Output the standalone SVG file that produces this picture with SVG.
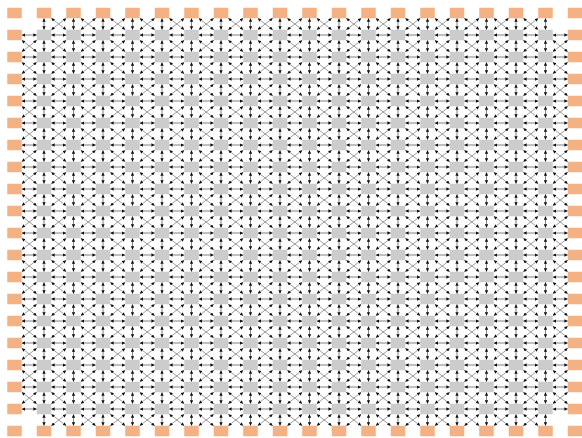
<svg xmlns="http://www.w3.org/2000/svg" xmlns:xlink="http://www.w3.org/1999/xlink" width="582" height="438" viewBox="0 0 582 438">
<style>
rect{width:14.5px;height:10.5px}
.o{fill:#F4B183}
.g{fill:#CCCCCC}
.c{stroke:#4a4a4a;stroke-width:0.7;fill:none;marker-start:url(#a);marker-end:url(#a)}
.d{stroke:#5a5a5a;stroke-width:0.6}
</style>
<defs>
<marker id="a" viewBox="0 0 6 6" refX="6" refY="3" markerWidth="3.4" markerHeight="3.4" markerUnits="userSpaceOnUse" orient="auto-start-reverse"><path d="M0,0L6,3L0,6z" fill="#111"/></marker>
<line id="h" class="c" x1="0" y1="0" x2="15" y2="0"/>
<line id="v" class="c" x1="0" y1="0" x2="0" y2="11.5"/>
<g id="dx"><line class="c d" x1="0" y1="0" x2="15" y2="11.5"/><line class="c d" x1="15" y1="0" x2="0" y2="11.5"/></g>
<g id="H"><use href="#h" x="21.75"/><use href="#h" x="51.25"/><use href="#h" x="80.75"/><use href="#h" x="110.25"/><use href="#h" x="139.75"/><use href="#h" x="169.25"/><use href="#h" x="198.75"/><use href="#h" x="228.25"/><use href="#h" x="257.75"/><use href="#h" x="287.25"/><use href="#h" x="316.75"/><use href="#h" x="346.25"/><use href="#h" x="375.75"/><use href="#h" x="405.25"/><use href="#h" x="434.75"/><use href="#h" x="464.25"/><use href="#h" x="493.75"/><use href="#h" x="523.25"/><use href="#h" x="552.75"/></g>
<g id="V"><use href="#v" x="44"/><use href="#v" x="73.5"/><use href="#v" x="103"/><use href="#v" x="132.5"/><use href="#v" x="162"/><use href="#v" x="191.5"/><use href="#v" x="221"/><use href="#v" x="250.5"/><use href="#v" x="280"/><use href="#v" x="309.5"/><use href="#v" x="339"/><use href="#v" x="368.5"/><use href="#v" x="398"/><use href="#v" x="427.5"/><use href="#v" x="457"/><use href="#v" x="486.5"/><use href="#v" x="516"/><use href="#v" x="545.5"/></g>
<g id="DXb"><use href="#dx" x="51.25"/><use href="#dx" x="80.75"/><use href="#dx" x="110.25"/><use href="#dx" x="139.75"/><use href="#dx" x="169.25"/><use href="#dx" x="198.75"/><use href="#dx" x="228.25"/><use href="#dx" x="257.75"/><use href="#dx" x="287.25"/><use href="#dx" x="316.75"/><use href="#dx" x="346.25"/><use href="#dx" x="375.75"/><use href="#dx" x="405.25"/><use href="#dx" x="434.75"/><use href="#dx" x="464.25"/><use href="#dx" x="493.75"/><use href="#dx" x="523.25"/></g>
<g id="DX"><use href="#dx" x="21.75"/><use href="#DXb"/><use href="#dx" x="552.75"/></g>
</defs>
<rect x="0" y="0" width="582" height="438" fill="#ffffff" style="width:582px;height:438px"/>
<g id="connectors">
<use href="#H" y="35"/><use href="#H" y="57"/><use href="#H" y="79"/><use href="#H" y="101"/><use href="#H" y="123"/><use href="#H" y="145"/><use href="#H" y="167"/><use href="#H" y="189"/><use href="#H" y="211"/><use href="#H" y="233"/><use href="#H" y="255"/><use href="#H" y="277"/><use href="#H" y="299"/><use href="#H" y="321"/><use href="#H" y="343"/><use href="#H" y="365"/><use href="#H" y="387"/><use href="#H" y="409"/>
<use href="#V" y="18.25"/><use href="#V" y="40.25"/><use href="#V" y="62.25"/><use href="#V" y="84.25"/><use href="#V" y="106.25"/><use href="#V" y="128.25"/><use href="#V" y="150.25"/><use href="#V" y="172.25"/><use href="#V" y="194.25"/><use href="#V" y="216.25"/><use href="#V" y="238.25"/><use href="#V" y="260.25"/><use href="#V" y="282.25"/><use href="#V" y="304.25"/><use href="#V" y="326.25"/><use href="#V" y="348.25"/><use href="#V" y="370.25"/><use href="#V" y="392.25"/><use href="#V" y="414.25"/>
<use href="#DXb" y="18.25"/><use href="#DX" y="40.25"/><use href="#DX" y="62.25"/><use href="#DX" y="84.25"/><use href="#DX" y="106.25"/><use href="#DX" y="128.25"/><use href="#DX" y="150.25"/><use href="#DX" y="172.25"/><use href="#DX" y="194.25"/><use href="#DX" y="216.25"/><use href="#DX" y="238.25"/><use href="#DX" y="260.25"/><use href="#DX" y="282.25"/><use href="#DX" y="304.25"/><use href="#DX" y="326.25"/><use href="#DX" y="348.25"/><use href="#DX" y="370.25"/><use href="#DX" y="392.25"/><use href="#DXb" y="414.25"/>
</g>
<g id="nodes">
<g transform="translate(0,7.75)"><g id="n0_0"><rect class="o" x="7.25"/></g><g id="n1_0"><rect class="o" x="36.75"/></g><g id="n2_0"><rect class="o" x="66.25"/></g><g id="n3_0"><rect class="o" x="95.75"/></g><g id="n4_0"><rect class="o" x="125.25"/></g><g id="n5_0"><rect class="o" x="154.75"/></g><g id="n6_0"><rect class="o" x="184.25"/></g><g id="n7_0"><rect class="o" x="213.75"/></g><g id="n8_0"><rect class="o" x="243.25"/></g><g id="n9_0"><rect class="o" x="272.75"/></g><g id="n10_0"><rect class="o" x="302.25"/></g><g id="n11_0"><rect class="o" x="331.75"/></g><g id="n12_0"><rect class="o" x="361.25"/></g><g id="n13_0"><rect class="o" x="390.75"/></g><g id="n14_0"><rect class="o" x="420.25"/></g><g id="n15_0"><rect class="o" x="449.75"/></g><g id="n16_0"><rect class="o" x="479.25"/></g><g id="n17_0"><rect class="o" x="508.75"/></g><g id="n18_0"><rect class="o" x="538.25"/></g><g id="n19_0"><rect class="o" x="567.75"/></g></g>
<g transform="translate(0,29.75)"><g id="n0_1"><rect class="o" x="7.25"/></g><g id="n1_1"><rect class="g" x="36.75"/></g><g id="n2_1"><rect class="g" x="66.25"/></g><g id="n3_1"><rect class="g" x="95.75"/></g><g id="n4_1"><rect class="g" x="125.25"/></g><g id="n5_1"><rect class="g" x="154.75"/></g><g id="n6_1"><rect class="g" x="184.25"/></g><g id="n7_1"><rect class="g" x="213.75"/></g><g id="n8_1"><rect class="g" x="243.25"/></g><g id="n9_1"><rect class="g" x="272.75"/></g><g id="n10_1"><rect class="g" x="302.25"/></g><g id="n11_1"><rect class="g" x="331.75"/></g><g id="n12_1"><rect class="g" x="361.25"/></g><g id="n13_1"><rect class="g" x="390.75"/></g><g id="n14_1"><rect class="g" x="420.25"/></g><g id="n15_1"><rect class="g" x="449.75"/></g><g id="n16_1"><rect class="g" x="479.25"/></g><g id="n17_1"><rect class="g" x="508.75"/></g><g id="n18_1"><rect class="g" x="538.25"/></g><g id="n19_1"><rect class="o" x="567.75"/></g></g>
<g transform="translate(0,51.75)"><g id="n0_2"><rect class="o" x="7.25"/></g><g id="n1_2"><rect class="g" x="36.75"/></g><g id="n2_2"><rect class="g" x="66.25"/></g><g id="n3_2"><rect class="g" x="95.75"/></g><g id="n4_2"><rect class="g" x="125.25"/></g><g id="n5_2"><rect class="g" x="154.75"/></g><g id="n6_2"><rect class="g" x="184.25"/></g><g id="n7_2"><rect class="g" x="213.75"/></g><g id="n8_2"><rect class="g" x="243.25"/></g><g id="n9_2"><rect class="g" x="272.75"/></g><g id="n10_2"><rect class="g" x="302.25"/></g><g id="n11_2"><rect class="g" x="331.75"/></g><g id="n12_2"><rect class="g" x="361.25"/></g><g id="n13_2"><rect class="g" x="390.75"/></g><g id="n14_2"><rect class="g" x="420.25"/></g><g id="n15_2"><rect class="g" x="449.75"/></g><g id="n16_2"><rect class="g" x="479.25"/></g><g id="n17_2"><rect class="g" x="508.75"/></g><g id="n18_2"><rect class="g" x="538.25"/></g><g id="n19_2"><rect class="o" x="567.75"/></g></g>
<g transform="translate(0,73.75)"><g id="n0_3"><rect class="o" x="7.25"/></g><g id="n1_3"><rect class="g" x="36.75"/></g><g id="n2_3"><rect class="g" x="66.25"/></g><g id="n3_3"><rect class="g" x="95.75"/></g><g id="n4_3"><rect class="g" x="125.25"/></g><g id="n5_3"><rect class="g" x="154.75"/></g><g id="n6_3"><rect class="g" x="184.25"/></g><g id="n7_3"><rect class="g" x="213.75"/></g><g id="n8_3"><rect class="g" x="243.25"/></g><g id="n9_3"><rect class="g" x="272.75"/></g><g id="n10_3"><rect class="g" x="302.25"/></g><g id="n11_3"><rect class="g" x="331.75"/></g><g id="n12_3"><rect class="g" x="361.25"/></g><g id="n13_3"><rect class="g" x="390.75"/></g><g id="n14_3"><rect class="g" x="420.25"/></g><g id="n15_3"><rect class="g" x="449.75"/></g><g id="n16_3"><rect class="g" x="479.25"/></g><g id="n17_3"><rect class="g" x="508.75"/></g><g id="n18_3"><rect class="g" x="538.25"/></g><g id="n19_3"><rect class="o" x="567.75"/></g></g>
<g transform="translate(0,95.75)"><g id="n0_4"><rect class="o" x="7.25"/></g><g id="n1_4"><rect class="g" x="36.75"/></g><g id="n2_4"><rect class="g" x="66.25"/></g><g id="n3_4"><rect class="g" x="95.75"/></g><g id="n4_4"><rect class="g" x="125.25"/></g><g id="n5_4"><rect class="g" x="154.75"/></g><g id="n6_4"><rect class="g" x="184.25"/></g><g id="n7_4"><rect class="g" x="213.75"/></g><g id="n8_4"><rect class="g" x="243.25"/></g><g id="n9_4"><rect class="g" x="272.75"/></g><g id="n10_4"><rect class="g" x="302.25"/></g><g id="n11_4"><rect class="g" x="331.75"/></g><g id="n12_4"><rect class="g" x="361.25"/></g><g id="n13_4"><rect class="g" x="390.75"/></g><g id="n14_4"><rect class="g" x="420.25"/></g><g id="n15_4"><rect class="g" x="449.75"/></g><g id="n16_4"><rect class="g" x="479.25"/></g><g id="n17_4"><rect class="g" x="508.75"/></g><g id="n18_4"><rect class="g" x="538.25"/></g><g id="n19_4"><rect class="o" x="567.75"/></g></g>
<g transform="translate(0,117.75)"><g id="n0_5"><rect class="o" x="7.25"/></g><g id="n1_5"><rect class="g" x="36.75"/></g><g id="n2_5"><rect class="g" x="66.25"/></g><g id="n3_5"><rect class="g" x="95.75"/></g><g id="n4_5"><rect class="g" x="125.25"/></g><g id="n5_5"><rect class="g" x="154.75"/></g><g id="n6_5"><rect class="g" x="184.25"/></g><g id="n7_5"><rect class="g" x="213.75"/></g><g id="n8_5"><rect class="g" x="243.25"/></g><g id="n9_5"><rect class="g" x="272.75"/></g><g id="n10_5"><rect class="g" x="302.25"/></g><g id="n11_5"><rect class="g" x="331.75"/></g><g id="n12_5"><rect class="g" x="361.25"/></g><g id="n13_5"><rect class="g" x="390.75"/></g><g id="n14_5"><rect class="g" x="420.25"/></g><g id="n15_5"><rect class="g" x="449.75"/></g><g id="n16_5"><rect class="g" x="479.25"/></g><g id="n17_5"><rect class="g" x="508.75"/></g><g id="n18_5"><rect class="g" x="538.25"/></g><g id="n19_5"><rect class="o" x="567.75"/></g></g>
<g transform="translate(0,139.75)"><g id="n0_6"><rect class="o" x="7.25"/></g><g id="n1_6"><rect class="g" x="36.75"/></g><g id="n2_6"><rect class="g" x="66.25"/></g><g id="n3_6"><rect class="g" x="95.75"/></g><g id="n4_6"><rect class="g" x="125.25"/></g><g id="n5_6"><rect class="g" x="154.75"/></g><g id="n6_6"><rect class="g" x="184.25"/></g><g id="n7_6"><rect class="g" x="213.75"/></g><g id="n8_6"><rect class="g" x="243.25"/></g><g id="n9_6"><rect class="g" x="272.75"/></g><g id="n10_6"><rect class="g" x="302.25"/></g><g id="n11_6"><rect class="g" x="331.75"/></g><g id="n12_6"><rect class="g" x="361.25"/></g><g id="n13_6"><rect class="g" x="390.75"/></g><g id="n14_6"><rect class="g" x="420.25"/></g><g id="n15_6"><rect class="g" x="449.75"/></g><g id="n16_6"><rect class="g" x="479.25"/></g><g id="n17_6"><rect class="g" x="508.75"/></g><g id="n18_6"><rect class="g" x="538.25"/></g><g id="n19_6"><rect class="o" x="567.75"/></g></g>
<g transform="translate(0,161.75)"><g id="n0_7"><rect class="o" x="7.25"/></g><g id="n1_7"><rect class="g" x="36.75"/></g><g id="n2_7"><rect class="g" x="66.25"/></g><g id="n3_7"><rect class="g" x="95.75"/></g><g id="n4_7"><rect class="g" x="125.25"/></g><g id="n5_7"><rect class="g" x="154.75"/></g><g id="n6_7"><rect class="g" x="184.25"/></g><g id="n7_7"><rect class="g" x="213.75"/></g><g id="n8_7"><rect class="g" x="243.25"/></g><g id="n9_7"><rect class="g" x="272.75"/></g><g id="n10_7"><rect class="g" x="302.25"/></g><g id="n11_7"><rect class="g" x="331.75"/></g><g id="n12_7"><rect class="g" x="361.25"/></g><g id="n13_7"><rect class="g" x="390.75"/></g><g id="n14_7"><rect class="g" x="420.25"/></g><g id="n15_7"><rect class="g" x="449.75"/></g><g id="n16_7"><rect class="g" x="479.25"/></g><g id="n17_7"><rect class="g" x="508.75"/></g><g id="n18_7"><rect class="g" x="538.25"/></g><g id="n19_7"><rect class="o" x="567.75"/></g></g>
<g transform="translate(0,183.75)"><g id="n0_8"><rect class="o" x="7.25"/></g><g id="n1_8"><rect class="g" x="36.75"/></g><g id="n2_8"><rect class="g" x="66.25"/></g><g id="n3_8"><rect class="g" x="95.75"/></g><g id="n4_8"><rect class="g" x="125.25"/></g><g id="n5_8"><rect class="g" x="154.75"/></g><g id="n6_8"><rect class="g" x="184.25"/></g><g id="n7_8"><rect class="g" x="213.75"/></g><g id="n8_8"><rect class="g" x="243.25"/></g><g id="n9_8"><rect class="g" x="272.75"/></g><g id="n10_8"><rect class="g" x="302.25"/></g><g id="n11_8"><rect class="g" x="331.75"/></g><g id="n12_8"><rect class="g" x="361.25"/></g><g id="n13_8"><rect class="g" x="390.75"/></g><g id="n14_8"><rect class="g" x="420.25"/></g><g id="n15_8"><rect class="g" x="449.75"/></g><g id="n16_8"><rect class="g" x="479.25"/></g><g id="n17_8"><rect class="g" x="508.75"/></g><g id="n18_8"><rect class="g" x="538.25"/></g><g id="n19_8"><rect class="o" x="567.75"/></g></g>
<g transform="translate(0,205.75)"><g id="n0_9"><rect class="o" x="7.25"/></g><g id="n1_9"><rect class="g" x="36.75"/></g><g id="n2_9"><rect class="g" x="66.25"/></g><g id="n3_9"><rect class="g" x="95.75"/></g><g id="n4_9"><rect class="g" x="125.25"/></g><g id="n5_9"><rect class="g" x="154.75"/></g><g id="n6_9"><rect class="g" x="184.25"/></g><g id="n7_9"><rect class="g" x="213.75"/></g><g id="n8_9"><rect class="g" x="243.25"/></g><g id="n9_9"><rect class="g" x="272.75"/></g><g id="n10_9"><rect class="g" x="302.25"/></g><g id="n11_9"><rect class="g" x="331.75"/></g><g id="n12_9"><rect class="g" x="361.25"/></g><g id="n13_9"><rect class="g" x="390.75"/></g><g id="n14_9"><rect class="g" x="420.25"/></g><g id="n15_9"><rect class="g" x="449.75"/></g><g id="n16_9"><rect class="g" x="479.25"/></g><g id="n17_9"><rect class="g" x="508.75"/></g><g id="n18_9"><rect class="g" x="538.25"/></g><g id="n19_9"><rect class="o" x="567.75"/></g></g>
<g transform="translate(0,227.75)"><g id="n0_10"><rect class="o" x="7.25"/></g><g id="n1_10"><rect class="g" x="36.75"/></g><g id="n2_10"><rect class="g" x="66.25"/></g><g id="n3_10"><rect class="g" x="95.75"/></g><g id="n4_10"><rect class="g" x="125.25"/></g><g id="n5_10"><rect class="g" x="154.75"/></g><g id="n6_10"><rect class="g" x="184.25"/></g><g id="n7_10"><rect class="g" x="213.75"/></g><g id="n8_10"><rect class="g" x="243.25"/></g><g id="n9_10"><rect class="g" x="272.75"/></g><g id="n10_10"><rect class="g" x="302.25"/></g><g id="n11_10"><rect class="g" x="331.75"/></g><g id="n12_10"><rect class="g" x="361.25"/></g><g id="n13_10"><rect class="g" x="390.75"/></g><g id="n14_10"><rect class="g" x="420.25"/></g><g id="n15_10"><rect class="g" x="449.75"/></g><g id="n16_10"><rect class="g" x="479.25"/></g><g id="n17_10"><rect class="g" x="508.75"/></g><g id="n18_10"><rect class="g" x="538.25"/></g><g id="n19_10"><rect class="o" x="567.75"/></g></g>
<g transform="translate(0,249.75)"><g id="n0_11"><rect class="o" x="7.25"/></g><g id="n1_11"><rect class="g" x="36.75"/></g><g id="n2_11"><rect class="g" x="66.25"/></g><g id="n3_11"><rect class="g" x="95.75"/></g><g id="n4_11"><rect class="g" x="125.25"/></g><g id="n5_11"><rect class="g" x="154.75"/></g><g id="n6_11"><rect class="g" x="184.25"/></g><g id="n7_11"><rect class="g" x="213.75"/></g><g id="n8_11"><rect class="g" x="243.25"/></g><g id="n9_11"><rect class="g" x="272.75"/></g><g id="n10_11"><rect class="g" x="302.25"/></g><g id="n11_11"><rect class="g" x="331.75"/></g><g id="n12_11"><rect class="g" x="361.25"/></g><g id="n13_11"><rect class="g" x="390.75"/></g><g id="n14_11"><rect class="g" x="420.25"/></g><g id="n15_11"><rect class="g" x="449.75"/></g><g id="n16_11"><rect class="g" x="479.25"/></g><g id="n17_11"><rect class="g" x="508.75"/></g><g id="n18_11"><rect class="g" x="538.25"/></g><g id="n19_11"><rect class="o" x="567.75"/></g></g>
<g transform="translate(0,271.75)"><g id="n0_12"><rect class="o" x="7.25"/></g><g id="n1_12"><rect class="g" x="36.75"/></g><g id="n2_12"><rect class="g" x="66.25"/></g><g id="n3_12"><rect class="g" x="95.75"/></g><g id="n4_12"><rect class="g" x="125.25"/></g><g id="n5_12"><rect class="g" x="154.75"/></g><g id="n6_12"><rect class="g" x="184.25"/></g><g id="n7_12"><rect class="g" x="213.75"/></g><g id="n8_12"><rect class="g" x="243.25"/></g><g id="n9_12"><rect class="g" x="272.75"/></g><g id="n10_12"><rect class="g" x="302.25"/></g><g id="n11_12"><rect class="g" x="331.75"/></g><g id="n12_12"><rect class="g" x="361.25"/></g><g id="n13_12"><rect class="g" x="390.75"/></g><g id="n14_12"><rect class="g" x="420.25"/></g><g id="n15_12"><rect class="g" x="449.75"/></g><g id="n16_12"><rect class="g" x="479.25"/></g><g id="n17_12"><rect class="g" x="508.75"/></g><g id="n18_12"><rect class="g" x="538.25"/></g><g id="n19_12"><rect class="o" x="567.75"/></g></g>
<g transform="translate(0,293.75)"><g id="n0_13"><rect class="o" x="7.25"/></g><g id="n1_13"><rect class="g" x="36.75"/></g><g id="n2_13"><rect class="g" x="66.25"/></g><g id="n3_13"><rect class="g" x="95.75"/></g><g id="n4_13"><rect class="g" x="125.25"/></g><g id="n5_13"><rect class="g" x="154.75"/></g><g id="n6_13"><rect class="g" x="184.25"/></g><g id="n7_13"><rect class="g" x="213.75"/></g><g id="n8_13"><rect class="g" x="243.25"/></g><g id="n9_13"><rect class="g" x="272.75"/></g><g id="n10_13"><rect class="g" x="302.25"/></g><g id="n11_13"><rect class="g" x="331.75"/></g><g id="n12_13"><rect class="g" x="361.25"/></g><g id="n13_13"><rect class="g" x="390.75"/></g><g id="n14_13"><rect class="g" x="420.25"/></g><g id="n15_13"><rect class="g" x="449.75"/></g><g id="n16_13"><rect class="g" x="479.25"/></g><g id="n17_13"><rect class="g" x="508.75"/></g><g id="n18_13"><rect class="g" x="538.25"/></g><g id="n19_13"><rect class="o" x="567.75"/></g></g>
<g transform="translate(0,315.75)"><g id="n0_14"><rect class="o" x="7.25"/></g><g id="n1_14"><rect class="g" x="36.75"/></g><g id="n2_14"><rect class="g" x="66.25"/></g><g id="n3_14"><rect class="g" x="95.75"/></g><g id="n4_14"><rect class="g" x="125.25"/></g><g id="n5_14"><rect class="g" x="154.75"/></g><g id="n6_14"><rect class="g" x="184.25"/></g><g id="n7_14"><rect class="g" x="213.75"/></g><g id="n8_14"><rect class="g" x="243.25"/></g><g id="n9_14"><rect class="g" x="272.75"/></g><g id="n10_14"><rect class="g" x="302.25"/></g><g id="n11_14"><rect class="g" x="331.75"/></g><g id="n12_14"><rect class="g" x="361.25"/></g><g id="n13_14"><rect class="g" x="390.75"/></g><g id="n14_14"><rect class="g" x="420.25"/></g><g id="n15_14"><rect class="g" x="449.75"/></g><g id="n16_14"><rect class="g" x="479.25"/></g><g id="n17_14"><rect class="g" x="508.75"/></g><g id="n18_14"><rect class="g" x="538.25"/></g><g id="n19_14"><rect class="o" x="567.75"/></g></g>
<g transform="translate(0,337.75)"><g id="n0_15"><rect class="o" x="7.25"/></g><g id="n1_15"><rect class="g" x="36.75"/></g><g id="n2_15"><rect class="g" x="66.25"/></g><g id="n3_15"><rect class="g" x="95.75"/></g><g id="n4_15"><rect class="g" x="125.25"/></g><g id="n5_15"><rect class="g" x="154.75"/></g><g id="n6_15"><rect class="g" x="184.25"/></g><g id="n7_15"><rect class="g" x="213.75"/></g><g id="n8_15"><rect class="g" x="243.25"/></g><g id="n9_15"><rect class="g" x="272.75"/></g><g id="n10_15"><rect class="g" x="302.25"/></g><g id="n11_15"><rect class="g" x="331.75"/></g><g id="n12_15"><rect class="g" x="361.25"/></g><g id="n13_15"><rect class="g" x="390.75"/></g><g id="n14_15"><rect class="g" x="420.25"/></g><g id="n15_15"><rect class="g" x="449.75"/></g><g id="n16_15"><rect class="g" x="479.25"/></g><g id="n17_15"><rect class="g" x="508.75"/></g><g id="n18_15"><rect class="g" x="538.25"/></g><g id="n19_15"><rect class="o" x="567.75"/></g></g>
<g transform="translate(0,359.75)"><g id="n0_16"><rect class="o" x="7.25"/></g><g id="n1_16"><rect class="g" x="36.75"/></g><g id="n2_16"><rect class="g" x="66.25"/></g><g id="n3_16"><rect class="g" x="95.75"/></g><g id="n4_16"><rect class="g" x="125.25"/></g><g id="n5_16"><rect class="g" x="154.75"/></g><g id="n6_16"><rect class="g" x="184.25"/></g><g id="n7_16"><rect class="g" x="213.75"/></g><g id="n8_16"><rect class="g" x="243.25"/></g><g id="n9_16"><rect class="g" x="272.75"/></g><g id="n10_16"><rect class="g" x="302.25"/></g><g id="n11_16"><rect class="g" x="331.75"/></g><g id="n12_16"><rect class="g" x="361.25"/></g><g id="n13_16"><rect class="g" x="390.75"/></g><g id="n14_16"><rect class="g" x="420.25"/></g><g id="n15_16"><rect class="g" x="449.75"/></g><g id="n16_16"><rect class="g" x="479.25"/></g><g id="n17_16"><rect class="g" x="508.75"/></g><g id="n18_16"><rect class="g" x="538.25"/></g><g id="n19_16"><rect class="o" x="567.75"/></g></g>
<g transform="translate(0,381.75)"><g id="n0_17"><rect class="o" x="7.25"/></g><g id="n1_17"><rect class="g" x="36.75"/></g><g id="n2_17"><rect class="g" x="66.25"/></g><g id="n3_17"><rect class="g" x="95.75"/></g><g id="n4_17"><rect class="g" x="125.25"/></g><g id="n5_17"><rect class="g" x="154.75"/></g><g id="n6_17"><rect class="g" x="184.25"/></g><g id="n7_17"><rect class="g" x="213.75"/></g><g id="n8_17"><rect class="g" x="243.25"/></g><g id="n9_17"><rect class="g" x="272.75"/></g><g id="n10_17"><rect class="g" x="302.25"/></g><g id="n11_17"><rect class="g" x="331.75"/></g><g id="n12_17"><rect class="g" x="361.25"/></g><g id="n13_17"><rect class="g" x="390.75"/></g><g id="n14_17"><rect class="g" x="420.25"/></g><g id="n15_17"><rect class="g" x="449.75"/></g><g id="n16_17"><rect class="g" x="479.25"/></g><g id="n17_17"><rect class="g" x="508.75"/></g><g id="n18_17"><rect class="g" x="538.25"/></g><g id="n19_17"><rect class="o" x="567.75"/></g></g>
<g transform="translate(0,403.75)"><g id="n0_18"><rect class="o" x="7.25"/></g><g id="n1_18"><rect class="g" x="36.75"/></g><g id="n2_18"><rect class="g" x="66.25"/></g><g id="n3_18"><rect class="g" x="95.75"/></g><g id="n4_18"><rect class="g" x="125.25"/></g><g id="n5_18"><rect class="g" x="154.75"/></g><g id="n6_18"><rect class="g" x="184.25"/></g><g id="n7_18"><rect class="g" x="213.75"/></g><g id="n8_18"><rect class="g" x="243.25"/></g><g id="n9_18"><rect class="g" x="272.75"/></g><g id="n10_18"><rect class="g" x="302.25"/></g><g id="n11_18"><rect class="g" x="331.75"/></g><g id="n12_18"><rect class="g" x="361.25"/></g><g id="n13_18"><rect class="g" x="390.75"/></g><g id="n14_18"><rect class="g" x="420.25"/></g><g id="n15_18"><rect class="g" x="449.75"/></g><g id="n16_18"><rect class="g" x="479.25"/></g><g id="n17_18"><rect class="g" x="508.75"/></g><g id="n18_18"><rect class="g" x="538.25"/></g><g id="n19_18"><rect class="o" x="567.75"/></g></g>
<g transform="translate(0,425.75)"><g id="n0_19"><rect class="o" x="7.25"/></g><g id="n1_19"><rect class="o" x="36.75"/></g><g id="n2_19"><rect class="o" x="66.25"/></g><g id="n3_19"><rect class="o" x="95.75"/></g><g id="n4_19"><rect class="o" x="125.25"/></g><g id="n5_19"><rect class="o" x="154.75"/></g><g id="n6_19"><rect class="o" x="184.25"/></g><g id="n7_19"><rect class="o" x="213.75"/></g><g id="n8_19"><rect class="o" x="243.25"/></g><g id="n9_19"><rect class="o" x="272.75"/></g><g id="n10_19"><rect class="o" x="302.25"/></g><g id="n11_19"><rect class="o" x="331.75"/></g><g id="n12_19"><rect class="o" x="361.25"/></g><g id="n13_19"><rect class="o" x="390.75"/></g><g id="n14_19"><rect class="o" x="420.25"/></g><g id="n15_19"><rect class="o" x="449.75"/></g><g id="n16_19"><rect class="o" x="479.25"/></g><g id="n17_19"><rect class="o" x="508.75"/></g><g id="n18_19"><rect class="o" x="538.25"/></g><g id="n19_19"><rect class="o" x="567.75"/></g></g>
</g>
</svg>
